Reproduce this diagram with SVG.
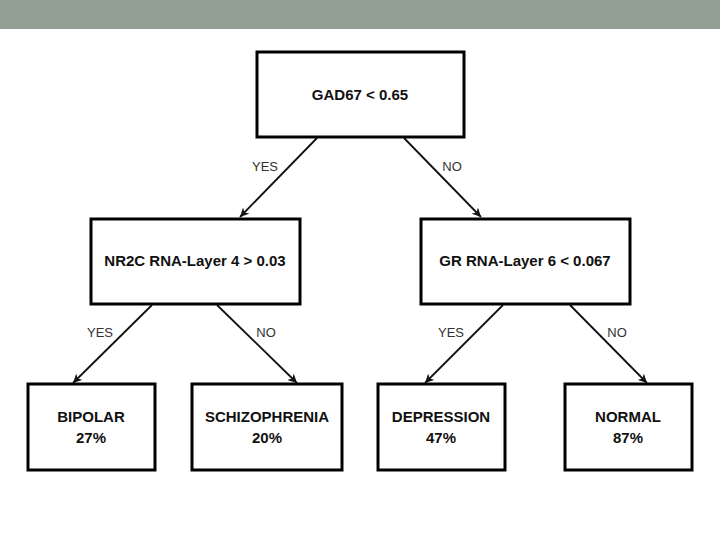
<svg xmlns="http://www.w3.org/2000/svg" width="720" height="540" viewBox="0 0 720 540">
<style>
.box{fill:#fff;stroke:#000;stroke-width:3}
.t{font-family:"Liberation Sans",Arial,sans-serif;font-weight:bold;font-size:15px;fill:#111;text-anchor:middle}
.l{font-family:"Liberation Sans",Arial,sans-serif;font-size:13px;fill:#333;text-anchor:middle}
.c{stroke:#111;stroke-width:1.8;fill:none;marker-end:url(#ah)}
</style>
<defs>
<marker id="ah" viewBox="0 0 10 10" refX="10" refY="5" markerWidth="9" markerHeight="9" markerUnits="userSpaceOnUse" orient="auto">
<path d="M0,0 L10,5 L0,10 L3,5 Z" fill="#111"/>
</marker>
</defs>
<rect x="0" y="0" width="720" height="29" fill="#919f94"/>
<g id="connectors">
<line class="c" x1="317" y1="138" x2="240" y2="217"/>
<line class="c" x1="404" y1="138" x2="481" y2="217"/>
<line class="c" x1="152" y1="305" x2="73" y2="383"/>
<line class="c" x1="217" y1="305" x2="297" y2="383"/>
<line class="c" x1="503" y1="305" x2="425" y2="383"/>
<line class="c" x1="570" y1="305" x2="647" y2="383"/>
<text class="l" x="265" y="171">YES</text>
<text class="l" x="452" y="171">NO</text>
<text class="l" x="100" y="337">YES</text>
<text class="l" x="266" y="337">NO</text>
<text class="l" x="451" y="337">YES</text>
<text class="l" x="617" y="337">NO</text>
</g>
<g id="root">
<rect class="box" x="257" y="52" width="207" height="85"/>
<text class="t" x="360" y="100">GAD67 &lt; 0.65</text>
</g>
<g id="nr2c">
<rect class="box" x="91" y="219" width="209" height="85"/>
<text class="t" x="195" y="266">NR2C RNA-Layer 4 &gt; 0.03</text>
</g>
<g id="gr">
<rect class="box" x="421" y="219" width="209" height="85"/>
<text class="t" x="525" y="266">GR RNA-Layer 6 &lt; 0.067</text>
</g>
<g id="bipolar">
<rect class="box" x="28" y="384" width="127" height="86"/>
<text class="t" x="91" y="422">BIPOLAR</text>
<text class="t" x="91" y="443">27%</text>
</g>
<g id="schizophrenia">
<rect class="box" x="192" y="384" width="150" height="86"/>
<text class="t" x="267" y="422">SCHIZOPHRENIA</text>
<text class="t" x="267" y="443">20%</text>
</g>
<g id="depression">
<rect class="box" x="378" y="384" width="127" height="86"/>
<text class="t" x="441" y="422">DEPRESSION</text>
<text class="t" x="441" y="443">47%</text>
</g>
<g id="normal">
<rect class="box" x="565" y="384" width="127" height="86"/>
<text class="t" x="628" y="422">NORMAL</text>
<text class="t" x="628" y="443">87%</text>
</g>
</svg>
